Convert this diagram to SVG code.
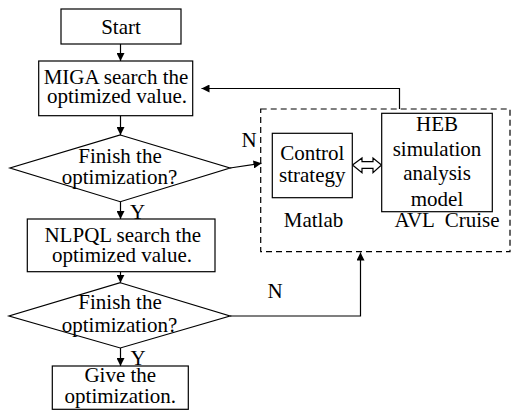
<svg xmlns="http://www.w3.org/2000/svg" width="512" height="414" viewBox="0 0 512 414">
<style>
.b{fill:#fff;stroke:#000;stroke-width:1.2}
.l{fill:none;stroke:#000;stroke-width:1.2}
.t{font-family:"Liberation Serif","Times New Roman",serif;font-size:21px;fill:#000;text-anchor:middle}
</style>
<defs>
<marker id="ah" markerUnits="userSpaceOnUse" markerWidth="10" markerHeight="8" refX="8" refY="4" orient="auto">
<path d="M0,0 L8,4 L0,8 Z" fill="#000"/>
</marker>
</defs>
<rect width="512" height="414" fill="#fff"/>
<g id="connectors">
<line class="l" x1="120.5" y1="44" x2="120.5" y2="61" marker-end="url(#ah)"/>
<line class="l" x1="120.5" y1="115.7" x2="120.5" y2="135" marker-end="url(#ah)"/>
<line class="l" x1="230" y1="168" x2="261.5" y2="163.3" marker-end="url(#ah)"/>
<polyline class="l" points="399.5,109 399.5,88.5 201.5,88.5" marker-end="url(#ah)"/>
<line class="l" x1="120.5" y1="201.7" x2="120.5" y2="219" marker-end="url(#ah)"/>
<line class="l" x1="120.5" y1="271.7" x2="120.5" y2="282.7" marker-end="url(#ah)"/>
<polyline class="l" points="230,316 360.5,316 360.5,252.5" marker-end="url(#ah)"/>
<line class="l" x1="120.5" y1="348" x2="120.5" y2="366" marker-end="url(#ah)"/>
<path class="b" d="M352.5,165 L362,158 L362,161.7 L373,161.7 L373,158 L381.5,165 L373,172.7 L373,168.3 L362,168.3 L362,172.7 Z"/>
<text class="t" x="249" y="147">N</text>
<text class="t" x="275" y="298">N</text>
<text class="t" x="137.5" y="219">Y</text>
<text class="t" x="138" y="365">Y</text>
</g>
<g id="start">
<rect class="b" x="61" y="9" width="120" height="35"/>
<text class="t" x="121" y="33.5">Start</text>
</g>
<g id="miga">
<rect class="b" x="38.7" y="61" width="154" height="54.7"/>
<text class="t" x="116" y="84.3">MIGA search the</text>
<text class="t" x="117" y="102.7">optimized value.</text>
</g>
<g id="finish1">
<polygon class="b" points="120.3,135 230,168 120.3,201.7 10,168"/>
<text class="t" x="120" y="163">Finish the</text>
<text class="t" x="119.5" y="184.3">optimization?</text>
</g>
<g id="dashed-group">
<rect x="260.7" y="109" width="249.3" height="142.7" fill="none" stroke="#000" stroke-width="1.2" stroke-dasharray="6,4"/>
<text class="t" x="313.5" y="226.7">Matlab</text>
<text class="t" x="447" y="226.7" xml:space="preserve">AVL  Cruise</text>
</g>
<g id="control">
<rect class="b" x="272.3" y="133.3" width="80" height="64.4"/>
<text class="t" x="312.3" y="160">Control</text>
<text class="t" x="312.3" y="181.7">strategy</text>
</g>
<g id="heb">
<rect class="b" x="381.7" y="113.3" width="110.6" height="98.4"/>
<text class="t" x="437" y="131">HEB</text>
<text class="t" x="437" y="156">simulation</text>
<text class="t" x="437" y="180">analysis</text>
<text class="t" x="437" y="206">model</text>
</g>
<g id="nlpql">
<rect class="b" x="27.3" y="219" width="187.7" height="52.7"/>
<text class="t" x="122.8" y="241.7">NLPQL search the</text>
<text class="t" x="122" y="261.7">optimized value.</text>
</g>
<g id="finish2">
<polygon class="b" points="120.3,282.7 230,316 120.3,348 9,316"/>
<text class="t" x="120" y="309">Finish the</text>
<text class="t" x="119.5" y="331.7">optimization?</text>
</g>
<g id="give">
<rect class="b" x="52.3" y="366" width="136" height="43.3"/>
<text class="t" x="120.3" y="381.7">Give the</text>
<text class="t" x="120.3" y="403.3">optimization.</text>
</g>
</svg>
